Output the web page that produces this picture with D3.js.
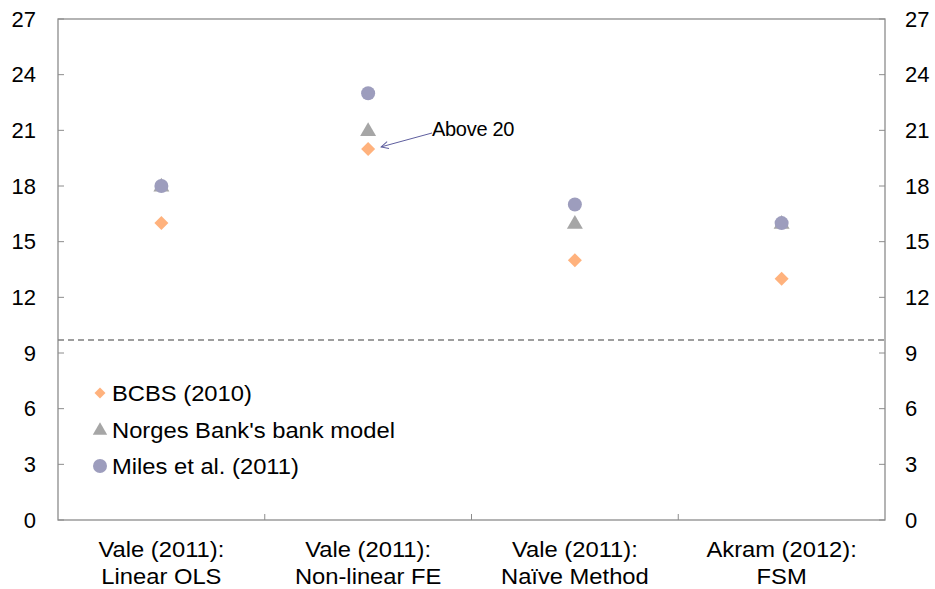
<!DOCTYPE html>
<html lang="en">
<head>
<meta charset="utf-8">
<title>Capital requirement estimates</title>
<script src="https://d3js.org/d3.v7.min.js"></script>
<style>
  body { margin: 0; background: #fff; }
  text { font-family: "Liberation Sans", Arial, sans-serif; fill: #000; }
</style>
</head>
<body>
<script>
// chart data
var categories = ["Vale (2011):|Linear OLS", "Vale (2011):|Non-linear FE", "Vale (2011):|Naïve Method", "Akram (2012):|FSM"];
var bcbs = [16, 20, 14, 13];
var norges = [18, 21, 16, 16];
var miles = [18, 23, 17, 16];
var yTicks = [0, 3, 6, 9, 12, 15, 18, 21, 24, 27];
var seriesNames = ["BCBS (2010)", "Norges Bank's bank model", "Miles et al. (2011)"];
var refLine = 9.7;

var width = 935, height = 589;
var margin = {top: 19, right: 50, bottom: 69, left: 58};
var w = width - margin.left - margin.right;
var h = height - margin.top - margin.bottom;

var svg = d3.select("body").append("svg").attr("width", width).attr("height", height);
var g = svg.append("g").attr("transform", "translate(" + margin.left + "," + margin.top + ")");

var x = d3.scaleBand().domain(categories).range([0, w]);
var y = d3.scaleLinear().domain([0, 27]).range([h, 0]);

var axisColor = "#8c8c8c";
var fs = "22px";
var stretch = 1.08; // text in the original is a bit wide

// left axis, labels outside, ticks inward
var left = g.append("g").call(d3.axisLeft(y).tickValues(yTicks).tickSize(0).tickPadding(22));
left.select(".domain").remove();
left.selectAll("text").style("font-size", fs).attr("fill", "#000");
g.append("g").selectAll("line").data(yTicks).join("line")
    .attr("x1", 0).attr("x2", 6).attr("y1", d => y(d)).attr("y2", d => y(d))
    .attr("stroke", axisColor);

var right = g.append("g").attr("transform", "translate(" + w + ",0)")
    .call(d3.axisRight(y).tickValues(yTicks).tickSize(0).tickPadding(20));
right.select(".domain").remove();
right.selectAll("text").style("font-size", fs).attr("fill", "#000");
g.append("g").selectAll("line").data(yTicks).join("line")
    .attr("x1", w - 6).attr("x2", w).attr("y1", d => y(d)).attr("y2", d => y(d))
    .attr("stroke", axisColor);

// frame
g.append("rect").attr("width", w).attr("height", h)
    .attr("fill", "none").attr("stroke", axisColor).attr("stroke-width", 1.3);

// category divider ticks on bottom
g.append("g").selectAll("line").data(categories.slice(1)).join("line")
    .attr("x1", d => x(d)).attr("x2", d => x(d)).attr("y1", h - 6).attr("y2", h)
    .attr("stroke", axisColor);

// category labels
var lab = g.append("g").selectAll("text").data(categories).join("text")
    .attr("transform", d => "translate(" + (x(d) + x.bandwidth() / 2) + "," + (h + 37) + ") scale(" + stretch + ",1)")
    .attr("text-anchor", "middle").style("font-size", fs);
lab.append("tspan").attr("x", 0).attr("y", 0).text(d => d.split("|")[0]);
lab.append("tspan").attr("x", 0).attr("y", 27).text(d => d.split("|")[1]);

// dashed reference line
g.append("line").attr("x1", 0).attr("x2", w).attr("y1", y(refLine)).attr("y2", y(refLine))
    .attr("stroke", "#7f7f7f").attr("stroke-width", 1.5).attr("stroke-dasharray", "6,4");

var cx = function(i) { return x(categories[i]) + x.bandwidth() / 2; };
var diamond = d3.symbol().type(d3.symbolSquare).size(98);
var tri = d3.symbol().type(d3.symbolTriangle).size(110);

// markers
g.append("g").selectAll("path").data(bcbs).join("path")
    .attr("d", diamond)
    .attr("transform", (d, i) => "translate(" + cx(i) + "," + y(d) + ") rotate(45)")
    .attr("fill", "#ffb27d");
g.append("g").selectAll("path").data(norges).join("path")
    .attr("d", tri)
    .attr("transform", (d, i) => "translate(" + cx(i) + "," + (y(d) + 1) + ")")
    .attr("fill", "#a6a6a6");
g.append("g").selectAll("circle").data(miles).join("circle")
    .attr("cx", (d, i) => cx(i)).attr("cy", d => y(d)).attr("r", 7)
    .attr("fill", "#9d9dbd");

// annotation
svg.append("defs").append("marker").attr("id", "arr")
    .attr("viewBox", "0 0 10 10").attr("refX", 9).attr("refY", 5)
    .attr("markerWidth", 9).attr("markerHeight", 9).attr("markerUnits", "userSpaceOnUse")
    .attr("orient", "auto")
    .append("path").attr("d", "M1,1 L9,5 L1,9").attr("fill", "none").attr("stroke", "#5f5f9f").attr("stroke-width", 1.1);
g.append("line")
    .attr("x1", 432 - margin.left).attr("y1", 133 - margin.top)
    .attr("x2", cx(1) + 13).attr("y2", y(bcbs[1]) - 2)
    .attr("stroke", "#5f5f9f").attr("stroke-width", 1).attr("marker-end", "url(#arr)");
g.append("text").attr("x", 432 - margin.left).attr("y", 136 - margin.top)
    .style("font-size", "20px").style("letter-spacing", "-0.3px").text("Above 20");

// legend
var leg = g.append("g").attr("transform", "translate(" + (100 - margin.left) + "," + (393 - margin.top) + ")");
var items = leg.selectAll("g").data(seriesNames).join("g")
    .attr("transform", (d, i) => "translate(0," + i * 36.5 + ")");
items.filter((d, i) => i === 0).append("path")
    .attr("d", d3.symbol().type(d3.symbolSquare).size(60)())
    .attr("transform", "rotate(45)").attr("fill", "#ffb27d");
items.filter((d, i) => i === 1).append("path")
    .attr("d", d3.symbol().type(d3.symbolTriangle).size(90)())
    .attr("transform", "translate(0,1)").attr("fill", "#a6a6a6");
items.filter((d, i) => i === 2).append("circle").attr("r", 7).attr("fill", "#9d9dbd");
items.append("text").attr("transform", "translate(12,8) scale(" + stretch + ",1)")
    .style("font-size", fs).text(d => d);
</script>
</body>
</html>
